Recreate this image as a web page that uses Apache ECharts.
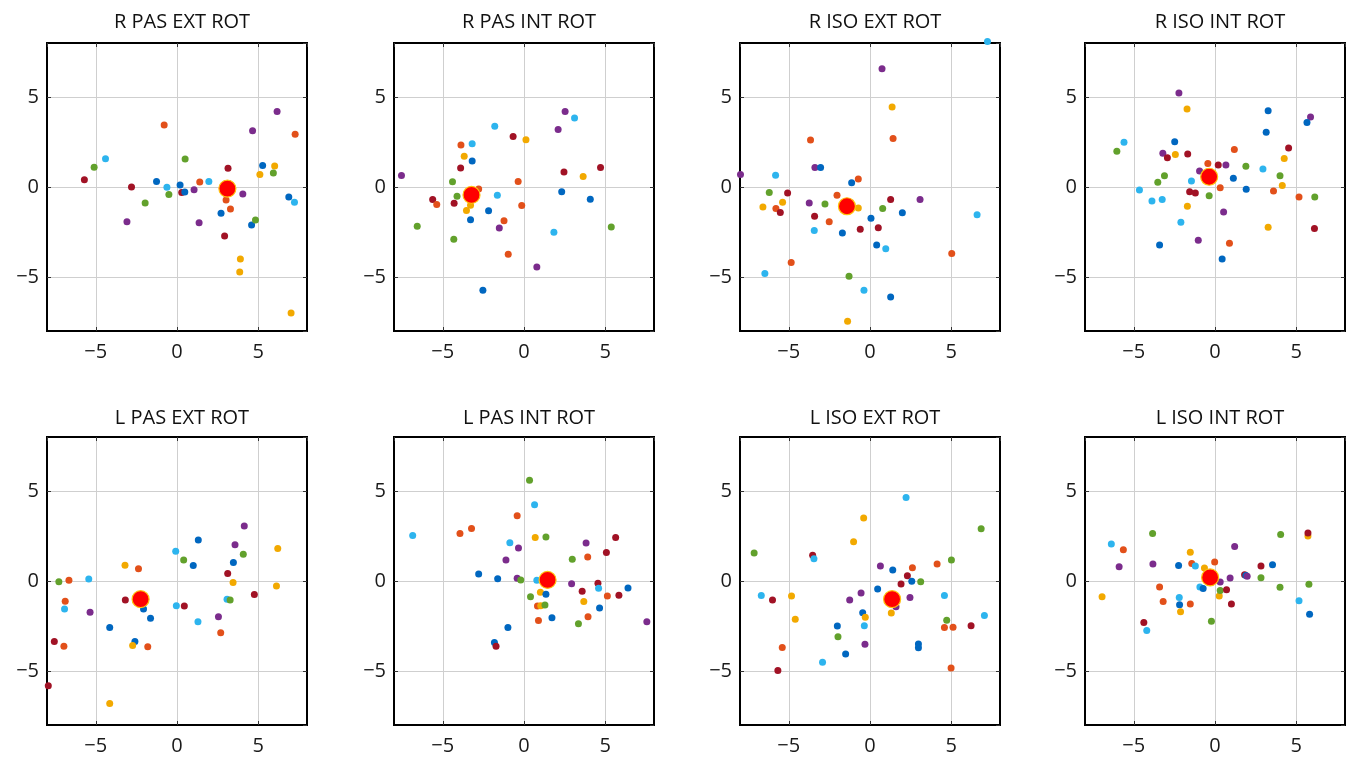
<!DOCTYPE html>
<html>
<head>
<meta charset="utf-8">
<script src="https://cdn.jsdelivr.net/npm/echarts@6/dist/echarts.min.js"></script>
<style>html,body{margin:0;padding:0;background:#fff;}#c{width:1349px;height:760px;}</style>
</head>
<body>
<div id="c"></div>
<script>
// colour index: 0 blue, 1 orange, 2 yellow, 3 purple, 4 green, 5 cyan, 6 dark red
const COLORS = ['#0067C0', '#E2501A', '#F2A900', '#7B2C8C', '#62A12C', '#2DB4EE', '#A11225'];
const TITLES = ['R PAS EXT ROT', 'R PAS INT ROT', 'R ISO EXT ROT', 'R ISO INT ROT',
                'L PAS EXT ROT', 'L PAS INT ROT', 'L ISO EXT ROT', 'L ISO INT ROT'];
const TICKS = [-5, 0, 5];

const rPasExt = [[-5.7,0.4,6],[-5.1,1.1,4],[-4.4,1.57,5],[-2.8,0,6],[-3.08,-1.93,3],[-1.96,-0.89,4],[-0.79,3.44,1],
  [-1.26,0.31,0],[-0.62,-0.02,5],[-0.5,-0.41,4],[0.5,1.56,4],[0.19,0.11,0],[0.29,-0.3,6],[0.48,-0.28,0],[1.05,-0.15,3],
  [1.4,0.28,1],[1.96,0.3,5],[1.36,-1.98,3],[2.71,-1.46,0],[3.14,1.04,6],[3.02,-0.72,1],[3.29,-1.22,1],[2.93,-2.72,6],
  [4.05,-0.39,3],[4.65,3.13,3],[3.9,-4.0,2],[3.86,-4.72,2],[4.59,-2.11,0],[4.83,-1.83,4],[5.27,1.2,0],[5.1,0.69,2],
  [6.01,1.17,2],[5.93,0.78,4],[6.16,4.19,3],[7.27,2.93,1],[6.88,-0.56,0],[7.23,-0.85,5],[7.02,-7.0,2]];
const rPasInt = [[-7.54,0.64,3],[-6.57,-2.18,4],[-5.62,-0.7,6],[-5.37,-0.97,1],[-4.3,-0.9,6],[-4.4,0.29,4],[-4.32,-2.9,4],
  [-4.12,-0.51,4],[-3.88,2.33,1],[-3.68,1.71,2],[-3.9,1.06,6],[-3.19,2.4,5],[-3.19,1.45,0],[-2.79,-0.11,1],[-3.29,-1.01,2],
  [-3.54,-1.3,2],[-3.29,-1.82,0],[-2.18,-1.32,0],[-2.53,-5.74,0],[-1.8,3.38,5],[-1.64,-0.46,5],[-1.23,-1.87,1],[-1.52,-2.28,3],
  [-0.97,-3.74,1],[-0.67,2.81,6],[-0.36,0.31,1],[-0.14,-1.03,1],[0.12,2.62,2],[0.79,-4.44,3],[2.1,3.19,3],[2.53,4.2,3],
  [3.11,3.83,5],[2.46,0.83,6],[2.32,-0.26,0],[1.84,-2.51,5],[3.64,0.59,2],[4.08,-0.68,0],[4.71,1.08,6],[5.37,-2.22,4]];
const rIsoExt = [[7.23,8.09,5],[0.74,6.57,3],[1.36,4.44,2],[1.42,2.7,1],[-3.66,2.61,1],[-3.39,1.09,3],[-3.04,1.09,0],
  [-7.97,0.69,3],[-5.81,0.65,5],[-1.13,0.24,0],[-0.72,0.44,1],[-6.2,-0.3,4],[-5.07,-0.33,6],[-5.38,-0.85,2],[-6.59,-1.11,2],
  [-5.79,-1.2,1],[-5.52,-1.41,6],[-3.74,-0.89,3],[-2.77,-0.94,4],[-2.03,-0.46,1],[-0.72,-1.17,2],[-3.41,-1.63,6],[-2.51,-1.93,1],
  [-3.43,-2.41,5],[-1.7,-2.56,0],[-0.6,-2.35,6],[0.06,-1.74,0],[0.51,-2.26,6],[0.78,-1.19,4],[1.27,-0.7,6],[3.08,-0.7,3],
  [1.99,-1.43,0],[0.41,-3.22,0],[0.97,-3.43,5],[-4.85,-4.19,1],[-6.47,-4.81,5],[-1.29,-4.96,4],[-0.37,-5.74,5],[1.27,-6.11,0],
  [-1.38,-7.46,2],[6.59,-1.54,5],[5.03,-3.7,1]];
const rIsoInt = [[-2.22,5.22,3],[-1.72,4.33,2],[3.27,4.24,0],[5.88,3.89,3],[5.66,3.59,0],[3.15,3.04,0],[-5.6,2.48,5],
  [-6.04,1.98,4],[-2.48,2.52,0],[-3.21,1.87,3],[-2.93,1.63,6],[-2.44,1.8,2],[-1.68,1.83,6],[1.19,2.09,1],[4.53,2.17,6],
  [4.26,1.59,2],[1.9,1.15,4],[2.95,1.0,5],[4.0,0.63,4],[4.14,0.09,2],[3.6,-0.22,1],[5.17,-0.56,1],[6.14,-0.56,4],
  [6.12,-2.3,6],[3.27,-2.24,2],[-3.11,0.63,4],[-3.52,0.26,4],[-4.65,-0.17,5],[-3.88,-0.78,5],[-3.25,-0.69,5],[-1.45,0.33,5],
  [-0.95,0.89,3],[-0.44,1.31,1],[0.2,1.22,6],[0.67,1.22,3],[1.13,0.48,0],[0.32,-0.04,1],[1.92,-0.13,0],[-1.56,-0.26,6],
  [-1.21,-0.33,6],[-0.36,-0.48,4],[-1.7,-1.07,2],[0.53,-1.39,3],[-2.1,-1.96,5],[-1.03,-2.96,3],[0.89,-3.13,1],[-3.41,-3.22,0],
  [0.44,-4.0,0]];
const lPasExt = [[-7.27,-0.04,4],[-6.65,0.04,1],[-5.43,0.11,5],[-6.88,-1.12,1],[-6.92,-1.56,5],[-5.35,-1.74,3],[-7.55,-3.36,6],
  [-6.96,-3.63,1],[-7.92,-5.82,6],[-4.14,-6.81,2],[-4.14,-2.59,0],[-3.2,0.88,2],[-3.18,-1.05,6],[-2.37,0.68,1],[-2.06,-1.56,0],
  [-1.63,-2.07,0],[-2.59,-3.36,0],[-2.73,-3.58,2],[-1.8,-3.65,1],[-0.08,1.65,5],[0.41,1.16,4],[1.0,0.86,0],[1.31,2.28,0],
  [-0.04,-1.38,5],[0.45,-1.39,6],[1.29,-2.26,5],[4.14,3.06,3],[3.57,2.02,3],[4.08,1.49,4],[3.47,1.03,0],[3.12,0.42,6],
  [3.45,-0.09,2],[3.08,-1.01,5],[3.27,-1.05,4],[4.76,-0.75,6],[2.55,-1.98,3],[2.69,-2.88,1],[6.2,1.8,2],[6.12,-0.28,2]];
const lPasInt = [[-6.85,2.53,5],[-3.94,2.64,1],[-3.23,2.92,1],[-0.42,3.63,1],[0.34,5.6,4],[0.65,4.24,5],[-0.87,2.13,5],
  [-0.34,1.83,3],[0.69,2.42,2],[1.35,2.44,4],[-1.11,1.16,3],[-2.79,0.39,0],[-1.62,0.13,0],[-0.42,0.15,3],[-0.2,0.06,4],
  [0.79,0.04,5],[1.01,-0.62,2],[1.35,-0.73,0],[0.4,-0.88,4],[0.83,-1.39,1],[1.03,-1.38,2],[1.29,-1.34,4],[0.89,-2.2,1],
  [1.72,-2.04,0],[-0.99,-2.59,0],[-1.82,-3.41,0],[-1.72,-3.63,6],[2.97,1.21,4],[2.93,-0.15,3],[3.82,2.11,3],[3.92,1.34,1],
  [5.07,1.58,6],[5.64,2.42,6],[4.55,-0.13,6],[4.59,-0.4,5],[3.58,-0.57,6],[3.68,-1.14,2],[5.13,-0.84,1],[5.84,-0.79,6],
  [6.4,-0.39,0],[4.65,-1.5,0],[3.94,-1.98,1],[3.35,-2.37,4],[7.56,-2.26,3]];
const lIsoExt = [[2.22,4.64,5],[-0.39,3.5,2],[-1.01,2.18,2],[6.84,2.9,4],[-7.13,1.56,4],[-3.53,1.43,6],[-3.45,1.23,5],
  [0.64,0.83,3],[1.4,0.61,0],[2.61,0.73,1],[4.13,0.95,1],[5.01,1.17,4],[2.3,0.29,6],[1.91,-0.17,6],[2.57,-0.02,0],
  [3.12,-0.04,4],[0.47,-0.44,0],[-0.55,-0.66,3],[-1.25,-1.05,3],[1.6,-1.43,3],[2.46,-0.92,3],[1.31,-1.78,2],[-0.45,-1.76,0],
  [-0.29,-2.02,2],[-0.35,-2.48,5],[-2.01,-2.5,0],[-1.97,-3.1,4],[-0.31,-3.52,3],[-1.5,-4.06,0],[-2.92,-4.51,5],[-6.69,-0.81,5],
  [-6.0,-1.05,6],[-4.83,-0.83,2],[-4.6,-2.13,2],[-5.4,-3.69,1],[-5.67,-4.97,6],[2.98,-3.5,0],[2.98,-3.71,0],[4.58,-0.81,5],
  [4.72,-2.18,4],[4.58,-2.59,1],[5.11,-2.57,1],[6.22,-2.48,6],[7.04,-1.91,5],[4.99,-4.83,1]];
const lIsoInt = [[-3.84,2.64,4],[-6.38,2.06,5],[-5.64,1.74,1],[-5.9,0.79,3],[-3.82,0.95,3],[-1.52,1.6,2],[-1.43,0.97,1],
  [-1.21,0.83,5],[-2.24,0.86,0],[-0.02,1.06,1],[-0.65,0.72,2],[0.32,-0.06,3],[0.26,-0.83,2],[0.32,-0.53,4],[0.71,-0.48,6],
  [0.93,0.17,3],[1.21,1.91,3],[-0.93,-0.33,5],[-0.73,-0.42,0],[1.01,-1.28,6],[-0.22,-2.24,4],[-3.41,-0.33,1],[-3.19,-1.14,1],
  [-2.2,-0.92,5],[-2.18,-1.32,0],[-2.12,-1.71,2],[-1.52,-1.28,1],[-6.95,-0.88,2],[-4.38,-2.31,6],[-4.2,-2.75,5],[1.82,0.35,6],
  [1.9,0.31,0],[1.98,0.26,3],[2.83,0.83,6],[2.83,0.18,4],[3.54,0.9,0],[4.04,2.59,4],[4.0,-0.35,4],[5.72,2.5,2],
  [5.72,2.66,6],[5.78,-0.18,4],[5.17,-1.1,5],[5.82,-1.85,0]];
const MEANS = [[3.1,-0.09],[-3.23,-0.44],[-1.42,-1.07],[-0.36,0.57],[-2.24,-1.01],[1.45,0.06],[1.36,-1.01],[-0.3,0.2]];

const PANELS = [rPasExt, rPasInt, rIsoExt, rIsoInt, lPasExt, lPasInt, lIsoExt, lIsoInt];

const COL_LEFT = [47, 394, 740, 1085];
const ROW_TOP = [43, 437];
const PW = 260, PH = 288;
const FONT = '"Open Sans", "Noto Sans", sans-serif';

function fmt(v) {
  if (TICKS.indexOf(v) < 0) return '';
  return v < 0 ? '\u2212' + Math.abs(v) : String(v);
}

const grids = [], xAxes = [], yAxes = [], extraX = [], extraY = [], series = [], titles = [];
PANELS.forEach(function (pts, i) {
  const r = Math.floor(i / 4), c = i % 4;
  const left = COL_LEFT[c], top = ROW_TOP[r];
  grids.push({ left: left, top: top, width: PW, height: PH, show: true,
    borderColor: '#000', borderWidth: 2, backgroundColor: 'transparent' });
  const tick = { show: true, inside: true, length: 4, lineStyle: { color: '#333', width: 1 } };
  const noLine = { show: false, onZero: false };
  const label = { formatter: fmt, color: '#1a1a1a', fontSize: 20, fontFamily: FONT, showMinLabel: false, showMaxLabel: false };
  const base = { type: 'value', min: -8, max: 8, minInterval: 5, maxInterval: 5, gridIndex: i };
  const split = { show: true, showMinLine: false, showMaxLine: false, lineStyle: { color: '#cfcfcf', width: 1 } };
  xAxes.push(Object.assign({}, base, {
    position: 'bottom', axisLine: noLine, axisTick: tick, splitLine: split,
    axisLabel: Object.assign({}, label, { margin: 11 })
  }));
  yAxes.push(Object.assign({}, base, {
    position: 'left', axisLine: noLine, axisTick: tick, splitLine: split,
    axisLabel: Object.assign({}, label, { margin: 8 })
  }));
  extraX.push(Object.assign({}, base, {
    position: 'top', axisLine: noLine, axisTick: tick, splitLine: { show: false }, axisLabel: { show: false }
  }));
  extraY.push(Object.assign({}, base, {
    position: 'right', axisLine: noLine, axisTick: tick, splitLine: { show: false }, axisLabel: { show: false }
  }));
  series.push({
    type: 'scatter', xAxisIndex: i, yAxisIndex: i, clip: false, symbolSize: 7, z: 2,
    data: pts,
    itemStyle: { color: function (p) { return COLORS[p.value[2]]; }, opacity: 1 },
    emphasis: { disabled: true }, silent: true
  });
  series.push({
    type: 'scatter', xAxisIndex: i, yAxisIndex: i, clip: false, symbolSize: 17, z: 3,
    data: [MEANS[i]],
    itemStyle: { color: '#FF0000', borderColor: '#FFC20E', borderWidth: 1.2, opacity: 1 },
    emphasis: { disabled: true }, silent: true
  });
  titles.push({
    text: TITLES[i], left: left + PW / 2, top: r === 0 ? 7 : 403, textAlign: 'center',
    textStyle: { fontFamily: FONT, fontSize: 20, fontWeight: 'normal', color: '#111' }
  });
});

const chart = echarts.init(document.getElementById('c'), null, { renderer: 'canvas' });
chart.setOption({
  backgroundColor: '#fff',
  animation: false,
  title: titles,
  grid: grids,
  xAxis: xAxes.concat(extraX),
  yAxis: yAxes.concat(extraY),
  series: series
});
</script>
</body>
</html>
